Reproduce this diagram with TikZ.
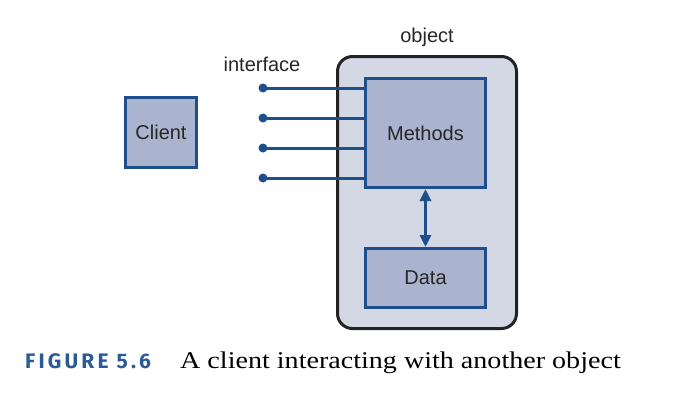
\documentclass[tikz,border=0pt]{standalone}
\usepackage{fontspec}
\setmainfont{Liberation Serif}
\newfontfamily\labelfont{Liberation Sans}
\newfontfamily\figfont{Fira Sans}[LetterSpace=15]
\newfontfamily\captextfont{Liberation Serif}[FakeStretch=1.17]
\usetikzlibrary{arrows.meta}

\definecolor{boxblue}{RGB}{31,78,140}
\definecolor{boxfill}{RGB}{170,180,207}
\definecolor{objfill}{RGB}{211,216,228}
\definecolor{objline}{RGB}{35,35,35}
\definecolor{figblue}{RGB}{42,90,151}

\begin{document}
\begin{tikzpicture}[x=1pt,y=-1pt,
	part/.style={draw=boxblue,fill=boxfill,line width=3pt,inner sep=0pt,
		font=\labelfont\fontsize{20}{23}\selectfont,text=black!85},
	objbox/.style={draw=objline,fill=objfill,line width=3pt,rounded corners=15pt,
		minimum width=179pt,minimum height=272pt,inner sep=0pt},
	plain/.style={font=\labelfont\fontsize{20}{23}\selectfont,text=black!85,inner sep=0pt},
	port/.style={circle,fill=boxblue,inner sep=0pt,minimum size=9pt},
	link/.style={draw=boxblue,line width=3pt}]
\useasboundingbox (0,0) rectangle (698,408);

\node[objbox] (object) at (427,192.5) {};
\node[plain] (objlabel) at (427,37) {object};

\node[part,minimum width=120pt,minimum height=109pt] (methods) at (425.5,133) {Methods};
\node[part,minimum width=120pt,minimum height=59pt] (data) at (425.5,278) {Data};
\node[part,minimum width=71pt,minimum height=70pt] (client) at (161,132.5) {Client};

\foreach \i/\y in {1/88,2/118,3/148,4/178}
{
	\node[port] (p\i) at (263,\y) {};
	\draw[link] (p\i.center) -- (p\i.center -| methods.west);
}
\node[plain] (iflabel) at (262,64) {interface};

\draw[link,line width=3.5pt,{Triangle[length=12pt,width=11pt]}-{Triangle[length=12pt,width=11pt]}]
	(methods.south) -- (data.north);

\node[anchor=base west,inner sep=0pt,text=figblue,font=\figfont\bfseries\fontsize{21}{24}\selectfont]
	(fignum) at (25,368) {FIGURE 5.6};
\node[anchor=base west,inner sep=0pt,font=\captextfont\fontsize{24}{27}\selectfont]
	(figtext) at (180,368) {A client interacting with another object};
\end{tikzpicture}
\end{document}
